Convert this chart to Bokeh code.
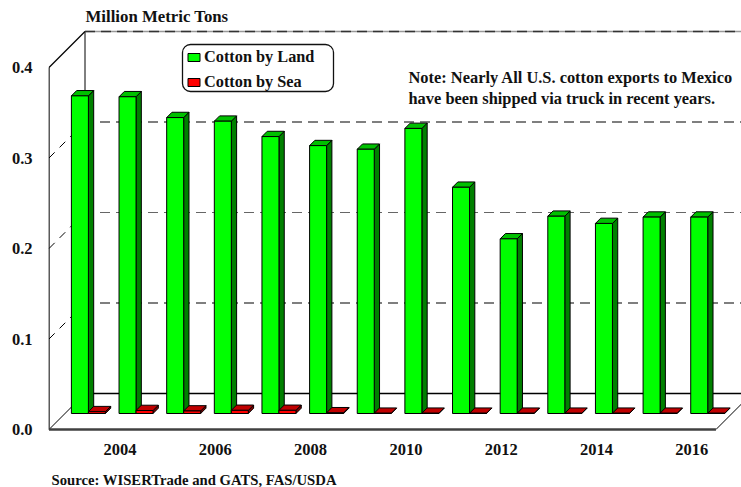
from bokeh.plotting import figure
from bokeh.models import FixedTicker, Legend, LegendItem, Label, Range1d, PrintfTickFormatter, BoxAnnotation, Title
from bokeh.embed import file_html
from bokeh.resources import INLINE

years = list(range(2003, 2017))
land = [.351, .350, .327, .323, .306, .296, .292, .315, .250, .193, .218, .210, .217, .217]
sea = [.0020, .0033, .0028, .0035, .0035, .0008, .0003, .0003, .0003, .0003, .0003, .0003, .0003, .0003]
y_ticks = [0.0, 0.1, 0.2, 0.3, 0.4]
x_ticks = [2004, 2006, 2008, 2010, 2012, 2014, 2016]
series_names = ["Cotton by Land", "Cotton by Sea"]
note_lines = ["Note: Nearly All U.S. cotton exports to Mexico",
              "have been shipped via truck in recent years."]
source = "Source:  WISERTrade and GATS, FAS/USDA"
y_title = "Million Metric Tons"

FONT = "Liberation Serif"
PX_X = 47.64      # pixels per year
PX_Y = 905.0      # pixels per unit
LEFT, TOP, BOTTOM = 48, 28, 431   # frame inside the canvas
W, H = 741, 487

ux = 1 / PX_X
uy = 1 / PX_Y
x0 = 2003 - (71.9 - LEFT) * ux
x1 = x0 + (W - LEFT) * ux
y0 = -2 * uy
y1 = y0 + (BOTTOM - TOP) * uy

p = figure(frame_width=W - LEFT, frame_height=BOTTOM - TOP, output_backend="svg", toolbar_location=None,
           x_range=Range1d(x0, x1), y_range=Range1d(y0, y1),
           min_border_left=LEFT, min_border_right=0, min_border_top=TOP, min_border_bottom=H - BOTTOM,
           outline_line_color=None, background_fill_color="white")
p.grid.visible = False

p.title.text = y_title
p.title.text_font = FONT
p.title.text_font_style = "bold"
p.title.text_font_size = "16.8px"
p.title.text_color = "#111111"
p.title.align = "left"
p.title.offset = 37
p.title.standoff = 5

ax, ay = p.xaxis[0], p.yaxis[0]
for a in (ax, ay):
    a.axis_line_color = None
    a.major_tick_line_color = None
    a.minor_tick_line_color = None
    a.major_tick_in = 0
    a.major_tick_out = 0
    a.major_label_text_font = FONT
    a.major_label_text_font_style = "bold"
    a.major_label_text_font_size = "16.5px"
    a.major_label_text_color = "#111111"
ay.ticker = FixedTicker(ticks=y_ticks)
ay.formatter = PrintfTickFormatter(format="%.1f")
ay.major_label_standoff = 16
ax.ticker = FixedTicker(ticks=x_ticks)
ax.formatter = PrintfTickFormatter(format="%d")
ax.major_label_standoff = 12

p.add_layout(Title(text=source, text_font=FONT, text_font_style="bold", text_font_size="14.7px",
                   text_color="#111111", align="left", offset=3, standoff=24), "below")

# depth of the 3-D box (back wall) and of the bars' plane
DX, DY = 36 * ux, 36 * uy
BX, BY = 16 * ux, 16 * uy
SX, SY = 5.3 * ux, 5.3 * uy
xL = x0 + 0.5 * ux
xR = xL + 14 * PX_X * ux

# walls
p.line([xL, xL], [0, y_ticks[-1]], line_color="black", line_width=1.3)
p.line([xL, xL + DX], [y_ticks[-1], y_ticks[-1] + DY], line_color="black", line_width=1.2)
p.line([xL + DX, xL + DX], [DY, y_ticks[-1] + DY], line_color="black", line_width=1)
p.line([xL, xL + DX], [0, DY], line_color="black", line_width=1)
p.line([xR, xR + DX], [0, DY], line_color="black", line_width=1)
p.line([xL + DX, x1], [DY, DY], line_color="black", line_width=1.6)
p.line([xL, xR], [0, 0], line_color="#404040", line_width=2.4)
for t in y_ticks[1:4]:
    p.line([xL, xL + DX], [t, t + DY], line_color="black", line_width=1, line_dash="8 7")
    p.line([xL + DX + 15 * ux, x1], [t + DY, t + DY], line_color="black" if t != 0.2 else "#666666",
           line_width=1.1, line_dash="10 6")
p.line([xL + DX, x1], [y_ticks[-1] + DY] * 2, line_color="#999999", line_width=1.6)
p.line([xL + DX, x1], [y_ticks[-1] + DY] * 2, line_color="#333333", line_width=1.6, line_dash="10 6")

# bars
w = 17 * ux
green, red = None, None
for name, vals, off, cf, ct, cs in [
    ("land", land, -w, "#00ff00", "#00c000", "#008000"),
    ("sea", sea, 0, "#ff0000", "#c00000", "#800000"),
]:
    xl = [yr + BX + off for yr in years]
    xr = [a + w for a in xl]
    p.patches([[a, a + SX, a + SX, a] for a in xr],
              [[BY, BY + SY, BY + SY + v, BY + v] for v in vals],
              fill_color=cs, line_color="black", line_width=1)
    p.patches([[a, a + SX, b + SX, b] for a, b in zip(xl, xr)],
              [[BY + v, BY + v + SY, BY + v + SY, BY + v] for v in vals],
              fill_color=ct, line_color="black", line_width=1)
    r = p.quad(left=xl, right=xr, bottom=[BY] * len(vals), top=[BY + v for v in vals],
               fill_color=cf, line_color="black", line_width=1)
    if name == "land":
        green = r
    else:
        red = r

# legend frame, rounded
p.add_layout(BoxAnnotation(left=134, right=285, top=387, bottom=340,
                           left_units="screen", right_units="screen", top_units="screen", bottom_units="screen",
                           fill_color="white", fill_alpha=1, line_color="#111111", line_alpha=1, line_width=1.3,
                           border_radius=8, level="annotation", editable=False))
legend = Legend(items=[LegendItem(label=series_names[0], renderers=[green]),
                       LegendItem(label=series_names[1], renderers=[red])],
                location=(138, 339), orientation="vertical",
                label_text_font=FONT, label_text_font_style="bold", label_text_font_size="16.3px",
                label_text_color="#111111", label_standoff=3, label_height=14,
                glyph_height=10, glyph_width=15,
                spacing=5, padding=0, margin=0, border_line_color=None,
                background_fill_alpha=0)
p.add_layout(legend, "center")

for i, line in enumerate(note_lines):
    p.add_layout(Label(x=360, y=354 - i * 20.5, x_units="screen", y_units="screen", text=line,
                       text_font=FONT, text_font_style="bold", text_font_size="16.4px",
                       text_color="#111111", text_baseline="middle"))

open("out.html", "w").write(file_html(p, INLINE))
